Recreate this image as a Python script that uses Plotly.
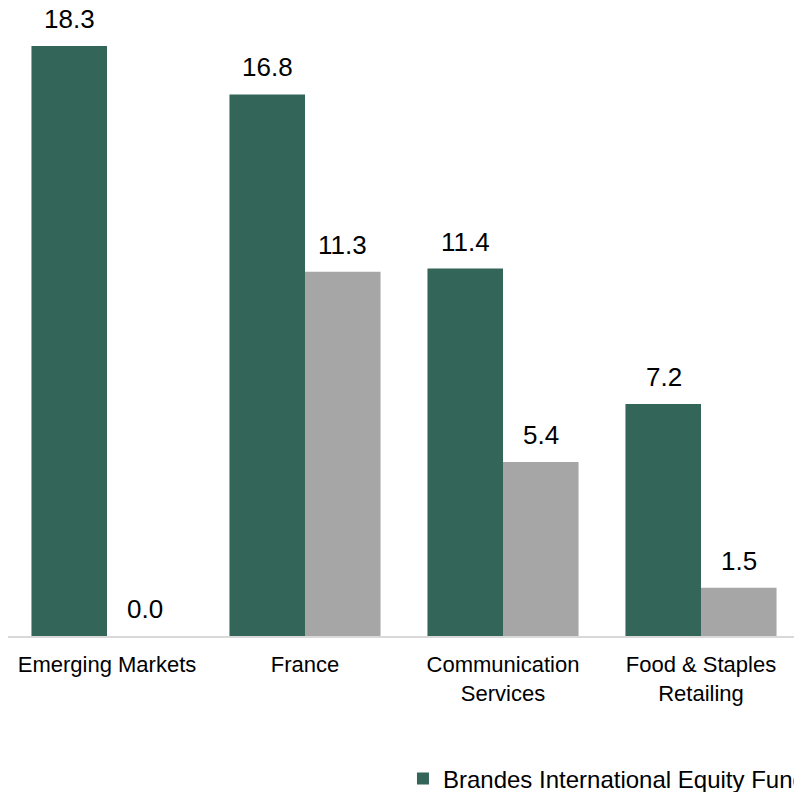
import plotly.graph_objects as go

categories = ["Emerging Markets", "France", "Communication<br>Services", "Food & Staples<br>Retailing"]
fund_name = "Brandes International Equity Fund"
bench_name = "MSCI EAFE Index"
fund_values = [18.3, 16.8, 11.4, 7.2]
bench_values = [0.0, 11.3, 5.4, 1.5]

GREEN = "#336659"
GREY = "#a6a6a6"
FONT = "Liberation Sans, Arial, sans-serif"

fig = go.Figure()
fig.add_trace(go.Bar(x=categories, y=fund_values, name=fund_name,
                     marker=dict(color=GREEN, line=dict(width=0)), showlegend=True))
fig.add_trace(go.Bar(x=categories, y=bench_values, name=bench_name,
                     marker=dict(color=GREY, line=dict(width=0)), showlegend=False))

annotations = []
for cat, v in zip(categories, fund_values):
    annotations.append(dict(x=cat, y=v, xref="x", yref="y", text=f"{v:.1f}",
                            showarrow=False, xshift=-37.5, yanchor="bottom", yshift=10,
                            font=dict(size=26, color="#000", family=FONT)))
for cat, v in zip(categories, bench_values):
    annotations.append(dict(x=cat, y=v, xref="x", yref="y", text=f"{v:.1f}",
                            showarrow=False, xshift=37.5, yanchor="bottom", yshift=10,
                            font=dict(size=26, color="#000", family=FONT)))

fig.update_layout(
    width=802, height=792,
    margin=dict(l=0, r=10, t=2, b=164, autoexpand=False),
    paper_bgcolor="white", plot_bgcolor="white",
    barmode="group", bargap=0.237, bargroupgap=0,
    font=dict(family=FONT, size=22, color="#000"),
    xaxis=dict(showline=True, linecolor="#d9d9d9", linewidth=2, showgrid=False,
               ticks="", ticklabelstandoff=8,
               tickfont=dict(size=22, color="#000", family=FONT)),
    yaxis=dict(visible=False, range=[0, 19.42]),
    legend=dict(orientation="h", x=0.4987, xanchor="left", y=-0.2284, yanchor="middle",
                font=dict(size=24, color="#000", family=FONT), itemwidth=30,
                bgcolor="rgba(0,0,0,0)"),
    annotations=annotations,
)

fig.write_html("out.html")
